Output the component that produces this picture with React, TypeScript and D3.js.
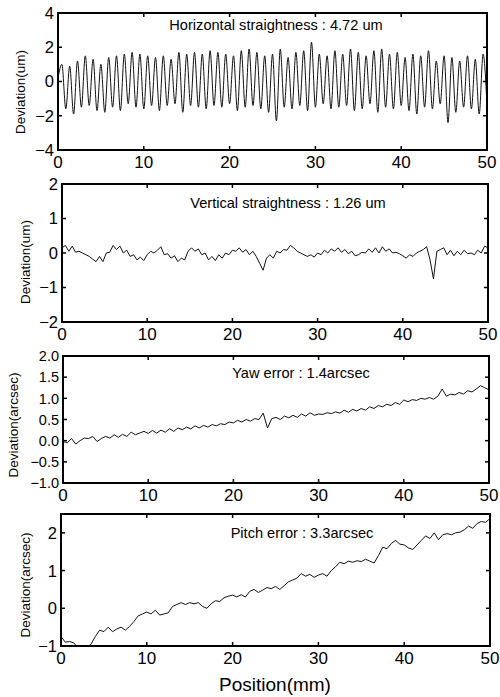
import React from "react";
import * as d3 from "d3";

const positionTicks = [0, 10, 20, 30, 40, 50];

const horizontalValues = [
  0.2,
  1.0, -1.6, 0.9, -1.9, 1.2, -1.5, 1.5, -1.4, 1.3, -1.7, 1.0, -1.8, 1.4, -1.5, 1.5, -1.7, 1.6, -1.3, 1.7, -1.5,
  1.6, -1.6, 1.5, -1.4, 1.4, -1.7, 1.5, -1.4, 1.3, -1.3, 1.7, -1.8, 1.6, -1.4, 1.7, -1.5, 1.6, -1.6, 1.8, -1.4,
  1.7, -1.5, 1.6, -1.3, 1.5, -1.7, 1.8, -1.5, 1.9, -1.4, 1.7, -1.6, 1.5, -1.8, 1.6, -2.3, 1.9, -1.5, 1.4, -1.6,
  1.7, -1.4, 1.8, -1.7, 2.3, -1.5, 1.6, -1.3, 1.5, -1.6, 1.8, -1.5, 1.6, -1.4, 1.9, -1.7, 1.7, -1.6, 1.5, -1.3,
  1.8, -1.8, 1.9, -1.5, 1.6, -1.6, 1.7, -1.4, 1.4, -1.7, 1.6, -1.9, 1.5, -1.5, 1.8, -1.6, 1.2, -1.3, 1.5, -2.4,
  1.4, -1.8, 1.2, -1.5, 1.5, -1.6, 1.3, -1.9, 1.6, -1.4,
];

const verticalValues = [
  0.15, 0.22, 0.05, 0.2, 0.02, 0.05, 0.0, -0.05, -0.1, -0.18,
  -0.25, -0.1, -0.25, 0.0, 0.02, 0.22, 0.1, 0.2, 0.0, 0.08,
  -0.1, -0.05, -0.2, -0.12, -0.22, -0.05, 0.05, 0.0, 0.08, 0.18,
  -0.05, -0.02, -0.15, -0.08, -0.25, -0.15, -0.2, 0.05, 0.15, 0.05,
  0.12, -0.05, 0.0, -0.2, -0.1, -0.22, -0.05, -0.15, 0.0, -0.05,
  0.08, 0.05, 0.15, 0.02, 0.1, -0.05, 0.05, -0.1, -0.3, -0.5,
  -0.15, -0.05, -0.15, 0.05, 0.0, 0.1, 0.08, 0.22, 0.15, 0.05,
  0.0, -0.05, -0.1, -0.05, -0.12, 0.0, -0.05, 0.08, 0.0, 0.12,
  0.05, 0.15, 0.02, 0.1, -0.02, 0.05, -0.08, -0.05, 0.02, 0.0,
  0.12, 0.02, 0.15, 0.0, 0.18, 0.05, 0.12, 0.0, 0.02, -0.02,
  -0.08, -0.15, -0.05, -0.1, 0.0, 0.05, 0.1, 0.18, -0.2, -0.75,
  0.05, 0.1, 0.15, -0.05, 0.08, -0.08, 0.05, -0.05, 0.08, -0.02,
  0.0, -0.05, 0.08, 0.0, 0.2, 0.15,
];

const yawValues = [
  -0.02, -0.05, 0.05, -0.08, 0.0, 0.06, 0.05, 0.1, -0.02, 0.05,
  0.1, 0.06, 0.14, 0.08, 0.15, 0.1, 0.2, 0.14, 0.18, 0.22,
  0.17, 0.24, 0.18, 0.25, 0.2, 0.28, 0.22, 0.3, 0.26, 0.32,
  0.28, 0.35, 0.3, 0.36, 0.32, 0.38, 0.35, 0.4, 0.38, 0.44,
  0.42, 0.48, 0.44, 0.5, 0.46, 0.52, 0.5, 0.65, 0.3, 0.52,
  0.55, 0.5, 0.58, 0.54, 0.6, 0.55, 0.63, 0.58, 0.66, 0.6,
  0.63, 0.62, 0.66, 0.64, 0.68, 0.65, 0.72, 0.67, 0.74, 0.7,
  0.76, 0.72, 0.8, 0.76, 0.83, 0.8, 0.86, 0.83, 0.9, 0.86,
  0.96, 0.92, 0.97, 0.95, 1.0, 0.98, 1.02, 0.98, 1.05, 1.22,
  1.05, 1.1, 1.08, 1.14, 1.1, 1.18, 1.15, 1.22, 1.3, 1.25,
  1.2,
];

const pitchValues = [
  -0.75, -0.9, -0.88, -0.92, -1.05, -1.05, -1.05, -0.95, -0.75, -0.58,
  -0.62, -0.5, -0.62, -0.55, -0.5, -0.58, -0.48, -0.35, -0.2, -0.15,
  -0.1, -0.15, -0.05, -0.18, -0.15, -0.12, 0.05, 0.1, 0.15, 0.1,
  0.15, 0.12, 0.15, 0.05, 0.0, 0.12, 0.2, 0.18, 0.28, 0.32,
  0.35, 0.3, 0.36, 0.3, 0.45, 0.5, 0.42, 0.48, 0.55, 0.52,
  0.58, 0.5, 0.6, 0.7, 0.75, 0.8, 0.92, 0.85, 0.9, 0.82,
  0.88, 0.92, 0.85, 1.0, 1.1, 1.22, 1.18, 1.25, 1.22, 1.26,
  1.24, 1.3, 1.25, 1.2, 1.4, 1.62, 1.58, 1.72, 1.8, 1.7,
  1.68, 1.6, 1.56, 1.68, 1.8, 1.92, 1.85, 2.0, 1.82, 1.95,
  1.98, 1.95, 2.0, 2.02, 2.08, 2.18, 2.12, 2.25, 2.3, 2.28,
  2.38,
];

const horizontalTicks = [-4, -2, 0, 2, 4];
const verticalTicks = [-2, -1, 0, 1, 2];
const yawTicks = [-1.0, -0.5, 0.0, 0.5, 1.0, 1.5, 2.0];
const pitchTicks = [-1, 0, 1, 2];

const FONT = "'Liberation Sans', Arial, Helvetica, sans-serif";

type PanelSpec = {
  id: string;
  values: number[];
  yDomain: [number, number];
  yTicks: number[];
  yFormat: (v: number) => string;
  yLabel: string;
  title: string;
  box: { left: number; right: number; top: number; bottom: number };
  titleX: number;
  titleY: number;
  labelX: number;
  labelY: number;
  yTickFont: number;
  smooth: boolean;
};

const panels: PanelSpec[] = [
  {
    id: "p1",
    values: horizontalValues,
    yDomain: [-4, 4],
    yTicks: horizontalTicks,
    yFormat: d3.format("d"),
    yLabel: "Deviation(um)",
    title: "Horizontal straightness : 4.72 um",
    box: { left: 58, right: 487, top: 13, bottom: 150 },
    titleX: 276,
    titleY: 30,
    labelX: 20,
    labelY: 92,
    yTickFont: 16.5,
    smooth: true,
  },
  {
    id: "p2",
    values: verticalValues,
    yDomain: [-2, 2],
    yTicks: verticalTicks,
    yFormat: d3.format("d"),
    yLabel: "Deviation(um)",
    title: "Vertical straightness : 1.26 um",
    box: { left: 62, right: 488, top: 184, bottom: 322 },
    titleX: 288,
    titleY: 208,
    labelX: 25,
    labelY: 262,
    yTickFont: 16.5,
    smooth: false,
  },
  {
    id: "p3",
    values: yawValues,
    yDomain: [-1, 2],
    yTicks: yawTicks,
    yFormat: d3.format(".1f"),
    yLabel: "Deviation(arcsec)",
    title: "Yaw error : 1.4arcsec",
    box: { left: 63, right: 489, top: 356, bottom: 483 },
    titleX: 301,
    titleY: 378,
    labelX: 13,
    labelY: 425,
    yTickFont: 14.5,
    smooth: false,
  },
  {
    id: "p4",
    values: pitchValues,
    yDomain: [-1, 2.5],
    yTicks: pitchTicks,
    yFormat: d3.format("d"),
    yLabel: "Deviation(arcsec)",
    title: "Pitch error : 3.3arcsec",
    box: { left: 61, right: 490, top: 514, bottom: 646 },
    titleX: 302,
    titleY: 538,
    labelX: 25,
    labelY: 585,
    yTickFont: 16.5,
    smooth: false,
  },
];

function Panel({ p }: { p: PanelSpec }) {
  const { left, right, top, bottom } = p.box;
  const x = d3.scaleLinear().domain([0, 50]).range([left, right]);
  const y = d3.scaleLinear().domain(p.yDomain).range([bottom, top]);
  const n = p.values.length;
  const step = 50 / (n - 1);
  const line = d3
    .line<number>()
    .x((_, i) => x(i * step))
    .y((v) => y(v))
    .curve(p.smooth ? d3.curveMonotoneX : d3.curveLinear);
  const tl = 4;
  return (
    <g>
      <defs>
        <clipPath id={`clip-${p.id}`}>
          <rect x={left} y={top} width={right - left} height={bottom - top} />
        </clipPath>
      </defs>
      <path
        d={line(p.values) || ""}
        fill="none"
        stroke="#111"
        strokeWidth={1}
        clipPath={`url(#clip-${p.id})`}
      />
      <rect
        x={left}
        y={top}
        width={right - left}
        height={bottom - top}
        fill="none"
        stroke="#000"
        strokeWidth={2}
      />
      {positionTicks.map((t) => (
        <g key={`xt${t}`}>
          <line x1={x(t)} x2={x(t)} y1={bottom} y2={bottom - tl} stroke="#000" strokeWidth={1.5} />
          <line x1={x(t)} x2={x(t)} y1={top} y2={top + tl} stroke="#000" strokeWidth={1.5} />
          <text
            x={x(t)}
            y={bottom + 17.5}
            textAnchor="middle"
            fontFamily={FONT}
            fontSize={17}
            fill="#000"
          >
            {t}
          </text>
        </g>
      ))}
      {p.yTicks.map((t) => (
        <g key={`yt${t}`}>
          <line x1={left} x2={left + tl} y1={y(t)} y2={y(t)} stroke="#000" strokeWidth={1.5} />
          <line x1={right} x2={right - tl} y1={y(t)} y2={y(t)} stroke="#000" strokeWidth={1.5} />
          <text
            x={left - 4}
            y={y(t) + p.yTickFont * 0.36}
            textAnchor="end"
            fontFamily={FONT}
            fontSize={p.yTickFont}
            fill="#000"
          >
            {p.yFormat(t)}
          </text>
        </g>
      ))}
      <text
        x={p.titleX}
        y={p.titleY}
        textAnchor="middle"
        fontFamily={FONT}
        fontSize={14.6}
        fill="#000"
      >
        {p.title}
      </text>
      <text
        transform={`translate(${p.labelX},${p.labelY}) rotate(-90)`}
        textAnchor="middle"
        dominantBaseline="central"
        fontFamily={FONT}
        fontSize={13.5}
        fill="#000"
      >
        {p.yLabel}
      </text>
    </g>
  );
}

export default function App() {
  return (
    <svg
      width={500}
      height={697}
      viewBox="0 0 500 697"
      style={{ position: "absolute", left: 0, top: 0, background: "#fff" }}
    >
      <rect x={0} y={0} width={500} height={697} fill="#fff" />
      {panels.map((p) => (
        <Panel key={p.id} p={p} />
      ))}
      <text
        x={275}
        y={691}
        textAnchor="middle"
        fontFamily={FONT}
        fontSize={19}
        fill="#000"
      >
        Position(mm)
      </text>
    </svg>
  );
}
